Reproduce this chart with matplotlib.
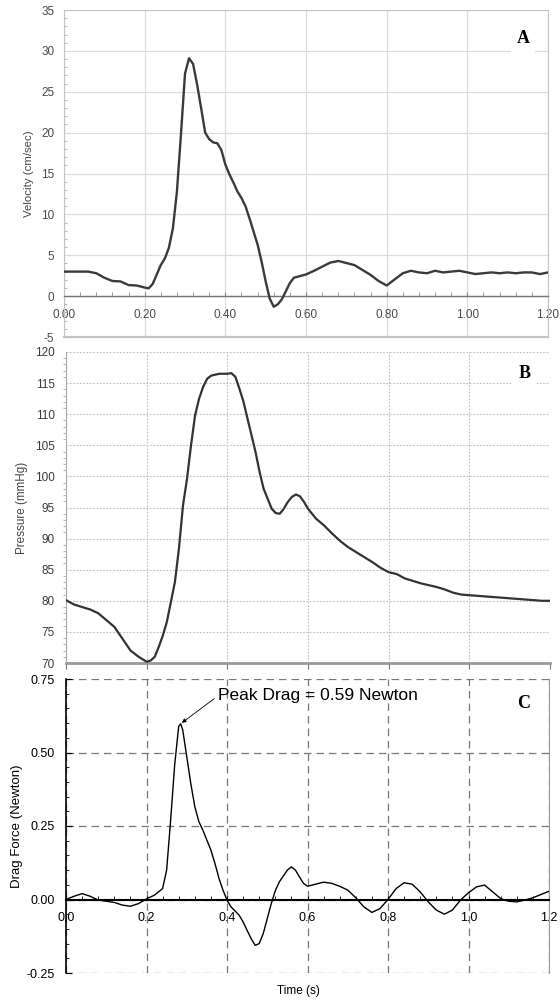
import numpy as np
import matplotlib
matplotlib.use("Agg")
import matplotlib.pyplot as plt
from matplotlib.ticker import MultipleLocator

plt.rcParams['font.family'] = ['Liberation Sans', 'DejaVu Sans']
plt.rcParams['axes.unicode_minus'] = False

# ---------------- data ----------------
vel_t = [0.00, 0.02, 0.04, 0.06, 0.08, 0.10, 0.12, 0.14, 0.16, 0.18, 0.20, 0.21,
         0.22, 0.24, 0.25, 0.26, 0.27, 0.28, 0.29, 0.30, 0.31, 0.32, 0.33, 0.34,
         0.35, 0.36, 0.37, 0.38, 0.39, 0.40, 0.41, 0.42, 0.43, 0.44, 0.45, 0.46,
         0.47, 0.48, 0.49, 0.50, 0.51, 0.52, 0.53, 0.54, 0.55, 0.56, 0.57, 0.60,
         0.62, 0.64, 0.66, 0.68, 0.70, 0.72, 0.74, 0.76, 0.78, 0.80, 0.82, 0.84,
         0.86, 0.88, 0.90, 0.92, 0.94, 0.96, 0.98, 1.00, 1.02, 1.04, 1.06, 1.08,
         1.10, 1.12, 1.14, 1.16, 1.18, 1.20]
vel_v = [3.0, 3.0, 3.0, 3.0, 2.8, 2.25, 1.85, 1.8, 1.35, 1.3, 1.05, 0.95,
         1.5, 3.8, 4.6, 5.9, 8.3, 12.8, 19.8, 27.2, 29.1, 28.4, 25.9, 23.0,
         20.0, 19.2, 18.8, 18.7, 17.9, 16.1, 14.9, 13.9, 12.8, 12.0, 11.0, 9.5,
         7.9, 6.3, 4.2, 1.8, -0.3, -1.3, -1.0, -0.4, 0.6, 1.6, 2.25, 2.65,
         3.1, 3.6, 4.1, 4.3, 4.05, 3.8, 3.2, 2.6, 1.85, 1.3, 2.05, 2.8,
         3.1, 2.9, 2.8, 3.1, 2.9, 3.0, 3.1, 2.9, 2.7, 2.8, 2.9, 2.8,
         2.9, 2.8, 2.9, 2.9, 2.7, 2.9]

pres_t = [0.00, 0.02, 0.04, 0.06, 0.08, 0.10, 0.12, 0.14, 0.16, 0.18, 0.20, 0.21,
          0.22, 0.23, 0.24, 0.25, 0.26, 0.27, 0.28, 0.29, 0.30, 0.31, 0.32, 0.33,
          0.34, 0.35, 0.36, 0.38, 0.40, 0.41, 0.42, 0.43, 0.44, 0.45, 0.46, 0.47,
          0.48, 0.49, 0.50, 0.51, 0.52, 0.53, 0.54, 0.55, 0.56, 0.57, 0.58, 0.59,
          0.60, 0.62, 0.64, 0.66, 0.68, 0.70, 0.72, 0.74, 0.76, 0.78, 0.80, 0.82,
          0.84, 0.86, 0.88, 0.90, 0.92, 0.94, 0.96, 0.98, 1.00, 1.02, 1.04, 1.06,
          1.08, 1.10, 1.12, 1.14, 1.16, 1.18, 1.20]
pres_v = [80.1, 79.4, 79.0, 78.6, 78.0, 76.9, 75.8, 73.9, 72.0, 71.0, 70.2, 70.4,
          71.0, 72.6, 74.4, 76.6, 79.8, 83.0, 88.4, 95.3, 99.6, 105.0, 109.8, 112.5,
          114.4, 115.7, 116.2, 116.5, 116.5, 116.6, 116.0, 114.1, 112.0, 109.3, 106.6, 103.9,
          100.7, 98.0, 96.4, 94.8, 94.1, 94.0, 94.8, 95.9, 96.7, 97.1, 96.8, 95.9,
          94.8, 93.2, 92.1, 90.8, 89.6, 88.6, 87.8, 87.0, 86.2, 85.3, 84.6, 84.3,
          83.6, 83.2, 82.8, 82.5, 82.2, 81.8, 81.3, 81.0, 80.9, 80.8, 80.7, 80.6,
          80.5, 80.4, 80.3, 80.2, 80.1, 80.0, 80.0]

drag_t = [0.00, 0.02, 0.04, 0.06, 0.08, 0.10, 0.12, 0.14, 0.16, 0.18, 0.20, 0.22,
          0.24, 0.25, 0.26, 0.27, 0.28, 0.285, 0.29, 0.30, 0.31, 0.32, 0.33, 0.34,
          0.35, 0.36, 0.37, 0.38, 0.39, 0.40, 0.41, 0.42, 0.43, 0.44, 0.45, 0.46,
          0.47, 0.48, 0.49, 0.50, 0.51, 0.52, 0.53, 0.54, 0.55, 0.56, 0.57, 0.58,
          0.59, 0.60, 0.62, 0.64, 0.66, 0.68, 0.70, 0.72, 0.74, 0.76, 0.78, 0.80,
          0.82, 0.84, 0.86, 0.88, 0.90, 0.92, 0.94, 0.96, 0.98, 1.00, 1.02, 1.04,
          1.06, 1.08, 1.10, 1.12, 1.14, 1.16, 1.18, 1.20]
drag_v = [0.0, 0.011, 0.02, 0.011, -0.002, -0.006, -0.01, -0.019, -0.023, -0.014, 0.002, 0.015,
          0.037, 0.10, 0.27, 0.458, 0.589, 0.598, 0.577, 0.486, 0.395, 0.316, 0.265, 0.236,
          0.202, 0.168, 0.123, 0.072, 0.032, -0.002, -0.025, -0.039, -0.053, -0.076, -0.105, -0.133,
          -0.156, -0.15, -0.116, -0.065, -0.014, 0.03, 0.06, 0.08, 0.10, 0.111, 0.10, 0.077,
          0.055, 0.045, 0.052, 0.059, 0.055, 0.045, 0.032, 0.006, -0.025, -0.044, -0.031, 0.0,
          0.037, 0.057, 0.052, 0.026, -0.008, -0.036, -0.05, -0.036, -0.002, 0.023, 0.043, 0.049,
          0.026, 0.003, -0.006, -0.008, -0.002, 0.006, 0.017, 0.028]

vel_ticks = [0.0, 0.2, 0.4, 0.6, 0.8, 1.0, 1.2]
vel_ticklabels = ["0.00", "0.20", "0.40", "0.60", "0.80", "1.00", "1.20"]
drag_ticklabels = ["0.0", "0.2", "0.4", "0.6", "0.8", "1.0", "1.2"]
peak_t, peak_v = 0.285, 0.598
peak_text = "Peak Drag = 0.59 Newton"

# ---------------- figure ----------------
W, H = 560, 1001
fig = plt.figure(figsize=(W / 100, H / 100), dpi=100)


def ax_at(l, t, r, b):
    return fig.add_axes([l / W, 1 - b / H, (r - l) / W, (b - t) / H])


serif = ['Liberation Serif', 'DejaVu Serif']

# ---------- Panel A ----------
axA = ax_at(64, 10, 548, 337)
frameA = '#c4c4c4'
axA.plot(vel_t, vel_v, color='#3a3a3a', lw=1.7, solid_joinstyle='round', zorder=3)
axA.set_xlim(0, 1.2)
axA.set_ylim(-5, 35)
axA.set_yticks(np.arange(-5, 36, 5))
axA.yaxis.set_minor_locator(MultipleLocator(1))
axA.set_xticks(vel_ticks)
axA.set_xticklabels(vel_ticklabels)
axA.xaxis.set_minor_locator(MultipleLocator(0.04))
axA.grid(True, which='major', color='#dcdcdc', lw=0.9)
axA.set_axisbelow(True)
for s in ['top', 'right', 'left']:
    axA.spines[s].set_color(frameA)
axA.spines['bottom'].set_position(('data', 0))
axA.spines['bottom'].set_color('#777777')
axA.spines['bottom'].set_linewidth(1.0)
axA.axhline(-5, color=frameA, lw=1.6, clip_on=False, zorder=4)
axA.tick_params(axis='x', which='both', direction='in', length=3, color='#888888',
                labelsize=8.5, labelcolor='#4a4a4a', pad=9)
axA.tick_params(axis='y', which='major', direction='in', length=0, labelsize=8.5,
                labelcolor='#4a4a4a', pad=7)
axA.tick_params(axis='y', which='minor', direction='in', length=2, color='#aaaaaa')
axA.set_ylabel('Velocity (cm/sec)', fontsize=8.2, color='#444444')
axA.yaxis.set_label_coords(-30 / 484, 0.5)
axA.text(0.948, 0.912, 'A', transform=axA.transAxes, fontsize=13, fontweight='bold',
         family=serif, ha='center', va='center',
         bbox=dict(facecolor='white', edgecolor='none', pad=4), zorder=5)

# ---------- Panel B ----------
axB = ax_at(66, 352, 550, 663)
axB.plot(pres_t, pres_v, color='#333333', lw=1.6, solid_joinstyle='round', zorder=3)
axB.set_xlim(0, 1.2)
axB.set_ylim(70, 120)
axB.set_yticks(np.arange(70, 121, 5))
axB.yaxis.set_minor_locator(MultipleLocator(1))
axB.set_xticks(vel_ticks)
axB.set_xticklabels([])
axB.grid(True, which='major', color='#bdbdbd', lw=0.8, linestyle=(0, (1.5, 1.5)))
axB.set_axisbelow(True)
axB.spines['top'].set_visible(False)
axB.spines['right'].set_visible(False)
axB.spines['left'].set_color('#aaaaaa')
axB.spines['bottom'].set_color('#9a9a9a')
axB.spines['bottom'].set_linewidth(2.0)
axB.tick_params(axis='x', which='major', direction='out', length=4, color='#777777')
axB.tick_params(axis='y', which='major', direction='out', length=0, labelsize=8.5,
                labelcolor='#3a3a3a', pad=8)
axB.tick_params(axis='y', which='minor', direction='out', length=2, color='#aaaaaa')
axB.set_ylabel('Pressure (mmHg)', fontsize=8.4, color='#444444')
axB.yaxis.set_label_coords(-38 / 484, 0.5)
axB.text(0.948, 0.93, 'B', transform=axB.transAxes, fontsize=13, fontweight='bold',
         family=serif, ha='center', va='center',
         bbox=dict(facecolor='white', edgecolor='none', pad=4), zorder=5)

# ---------- Panel C ----------
axC = ax_at(66, 679, 549, 973)
axC.plot(drag_t, drag_v, color='black', lw=1.0, zorder=3)
axC.set_xlim(0, 1.2)
axC.set_ylim(-0.25, 0.75)
axC.set_yticks([-0.25, 0.0, 0.25, 0.5, 0.75])
axC.set_yticklabels(['-0.25', '0.00', '0.25', '0.50', '0.75'])
axC.yaxis.set_minor_locator(MultipleLocator(0.05))
axC.set_xticks(vel_ticks)
axC.set_xticklabels(drag_ticklabels)
axC.xaxis.set_minor_locator(MultipleLocator(0.04))
axC.grid(True, which='major', color='#777777', lw=0.9, linestyle=(0, (6, 4)))
axC.set_axisbelow(True)
axC.spines['top'].set_visible(False)
axC.spines['right'].set_color('#999999')
axC.spines['left'].set_color('black')
axC.spines['left'].set_linewidth(1.2)
axC.spines['bottom'].set_position(('data', 0))
axC.spines['bottom'].set_linewidth(1.5)
axC.tick_params(axis='x', which='both', direction='in', length=3, color='black',
                labelsize=9, pad=9)
axC.tick_params(axis='y', which='major', direction='in', length=4, labelsize=9, pad=8)
axC.tick_params(axis='y', which='minor', direction='in', length=2.5)
axC.set_ylabel('Drag Force (Newton)', fontsize=9.5)
axC.yaxis.set_label_coords(-43 / 483, 0.5)
axC.set_xlabel('Time (s)', fontsize=8.5)
axC.xaxis.set_label_coords(0.482, -0.042)
axC.annotate(peak_text, xy=(peak_t, peak_v), xytext=(0.378, 0.693),
             fontsize=12.5, ha='left', va='center',
             arrowprops=dict(arrowstyle='-|>', color='black', lw=0.6,
                             mutation_scale=6, shrinkA=1, shrinkB=1,
                             relpos=(0, 0.5)), zorder=5)
axC.text(0.948, 0.915, 'C', transform=axC.transAxes, fontsize=13, fontweight='bold',
         family=serif, ha='center', va='center', zorder=5)

fig.savefig('out.png', dpi=100)
